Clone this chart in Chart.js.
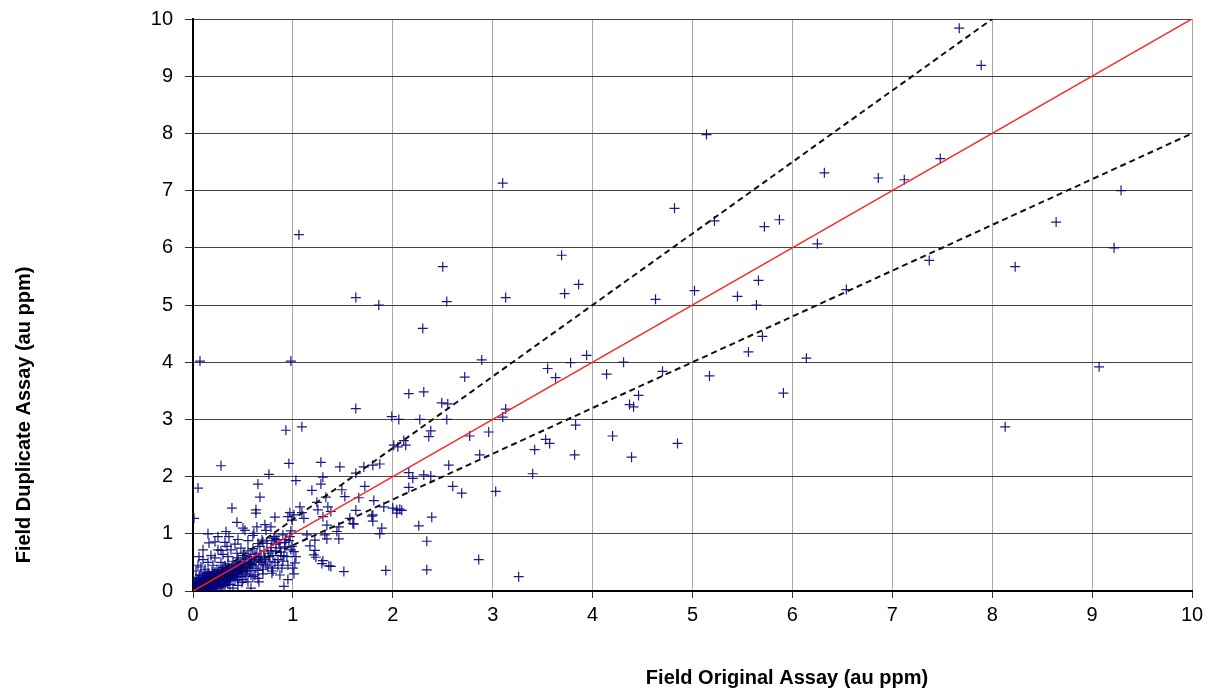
<!DOCTYPE html>
<html>
<head>
<meta charset="utf-8">
<title>Field Duplicates</title>
<script src="https://cdn.jsdelivr.net/npm/chart.js@4/dist/chart.umd.min.js"></script>
<style>
    body { margin: 0; background: #fff; }
    #wrap { width: 1210px; height: 692px; }
</style>
</head>
<body>
<div id="wrap"><canvas id="dupChart" width="1210" height="692"></canvas></div>
<script>
// original vs duplicate assay pairs, au ppm
var highPairs = [
    [7.67, 9.84], [7.89, 9.19], [5.14, 7.98], [7.48, 7.56], [6.32, 7.31], [6.86, 7.22], [7.12, 7.19],
    [3.10, 7.13], [9.29, 7.00], [4.82, 6.69], [5.22, 6.47], [8.64, 6.45], [5.87, 6.49], [5.72, 6.37],
    [1.06, 6.23], [6.25, 6.07], [9.22, 6.00], [3.69, 5.87], [7.37, 5.78], [2.50, 5.67], [8.23, 5.67],
    [5.66, 5.43], [3.86, 5.36], [5.02, 5.25], [6.54, 5.27], [3.72, 5.20], [1.63, 5.13], [3.13, 5.13],
    [5.45, 5.15], [4.63, 5.10], [2.54, 5.06], [5.64, 5.00], [1.86, 5.00], [2.30, 4.59], [5.70, 4.45],
    [5.56, 4.18], [3.94, 4.12], [6.14, 4.07], [0.07, 4.02], [0.98, 4.02], [2.89, 4.04], [4.31, 4.00],
    [3.78, 3.99], [9.07, 3.92], [3.55, 3.89], [4.70, 3.84], [4.14, 3.79], [5.17, 3.76], [2.72, 3.74],
    [3.63, 3.73], [2.31, 3.48], [2.16, 3.45], [5.91, 3.46], [4.46, 3.42], [4.37, 3.26], [4.41, 3.22],
    [2.49, 3.29], [2.55, 3.27], [1.63, 3.19], [3.13, 3.18], [3.10, 3.04], [1.99, 3.05], [2.06, 3.00],
    [2.27, 3.00], [2.54, 3.00], [8.13, 2.87], [3.83, 2.90], [1.09, 2.87], [0.93, 2.81], [2.96, 2.78],
    [2.38, 2.80], [2.36, 2.70], [2.77, 2.71], [4.20, 2.71], [3.53, 2.65], [3.57, 2.58], [4.85, 2.58],
    [2.11, 2.63], [2.01, 2.55], [2.05, 2.52], [2.13, 2.55], [3.42, 2.47], [3.82, 2.38], [2.87, 2.38],
    [4.39, 2.34]
];

var midPairs = [
    [0.28, 2.19], [0.96, 2.23], [1.28, 2.25], [1.47, 2.17], [1.71, 2.17], [1.80, 2.20], [1.87, 2.22],
    [2.56, 2.20], [1.63, 2.06], [2.16, 2.07], [2.20, 1.97], [2.31, 2.03], [2.38, 2.01], [3.40, 2.05],
    [0.76, 2.04], [1.03, 1.93], [1.30, 1.99], [1.28, 1.87], [0.65, 1.87], [0.05, 1.80], [1.72, 1.83],
    [2.16, 1.81], [2.60, 1.83], [2.69, 1.71], [3.03, 1.74], [1.19, 1.76], [1.49, 1.77], [1.52, 1.65],
    [1.33, 1.64], [1.66, 1.63], [0.67, 1.64], [1.81, 1.58], [1.24, 1.55], [1.07, 1.47], [1.35, 1.47],
    [1.91, 1.47], [2.00, 1.45], [2.04, 1.42], [2.07, 1.43], [2.09, 1.41], [0.39, 1.45], [0.63, 1.42],
    [1.63, 1.41], [1.25, 1.42], [1.38, 1.39], [0.97, 1.37], [1.09, 1.37], [0.63, 1.36], [2.04, 1.36],
    [1.80, 1.33], [1.30, 1.30], [0.82, 1.29], [2.39, 1.29], [1.79, 1.31], [0.01, 1.27], [1.11, 1.27],
    [1.57, 1.27], [0.99, 1.24], [1.80, 1.22], [1.61, 1.17], [1.60, 1.18], [1.34, 1.15], [1.46, 1.12],
    [2.26, 1.14], [1.89, 1.10], [1.44, 1.04], [1.87, 1.00], [1.14, 0.98], [1.32, 0.98], [1.22, 0.89],
    [1.34, 0.91], [1.46, 0.91], [2.34, 0.87], [0.99, 0.78], [1.17, 0.79], [1.01, 0.69], [1.22, 0.71],
    [1.03, 0.60], [1.21, 0.63], [1.23, 0.59], [1.30, 0.53], [1.02, 0.49], [1.29, 0.48], [1.36, 0.44],
    [1.38, 0.43], [2.86, 0.55], [1.00, 0.40], [0.79, 0.40], [1.51, 0.34], [1.93, 0.36], [2.34, 0.37],
    [1.01, 0.30], [0.87, 0.28], [3.26, 0.25], [0.66, 0.16], [0.58, 0.05], [0.40, 0.05]
];

var lowPairs = [
    [0.95, 1.30], [1.01, 1.33], [0.72, 1.16], [0.78, 1.12], [0.73, 1.06], [0.33, 1.04], [0.52, 1.06],
    [0.61, 1.01], [0.16, 0.84], [0.34, 0.78], [0.28, 0.71], [0.44, 0.66], [0.51, 0.66], [0.65, 0.83],
    [0.69, 0.89], [0.82, 0.95], [0.83, 0.82], [0.91, 0.61], [0.98, 0.72], [0.89, 0.40], [0.79, 0.31],
    [0.95, 0.20], [0.91, 0.08],
    [0.02, 0.05], [0.03, 0.12], [0.04, 0.02], [0.05, 0.20], [0.06, 0.08], [0.07, 0.15], [0.08, 0.03],
    [0.09, 0.27], [0.10, 0.10], [0.11, 0.18], [0.12, 0.06], [0.13, 0.22], [0.14, 0.13], [0.15, 0.32],
    [0.16, 0.09], [0.17, 0.19], [0.18, 0.26], [0.19, 0.14], [0.20, 0.05], [0.21, 0.30], [0.22, 0.21],
    [0.23, 0.12], [0.24, 0.37], [0.25, 0.26], [0.26, 0.18], [0.27, 0.08], [0.28, 0.33], [0.29, 0.23],
    [0.30, 0.41], [0.31, 0.15], [0.32, 0.29], [0.33, 0.36], [0.34, 0.22], [0.35, 0.47], [0.36, 0.31],
    [0.37, 0.11], [0.38, 0.39], [0.39, 0.27], [0.40, 0.52], [0.41, 0.35], [0.42, 0.19], [0.43, 0.44],
    [0.44, 0.30], [0.45, 0.58], [0.46, 0.40], [0.47, 0.25], [0.48, 0.50], [0.49, 0.36], [0.50, 0.62],
    [0.51, 0.45], [0.52, 0.30], [0.53, 0.55], [0.54, 0.41], [0.55, 0.70], [0.56, 0.49], [0.57, 0.35],
    [0.58, 0.60], [0.59, 0.47], [0.60, 0.74], [0.62, 0.55], [0.63, 0.40], [0.64, 0.66], [0.66, 0.52],
    [0.67, 0.78], [0.68, 0.61], [0.70, 0.47], [0.71, 0.70], [0.72, 0.58], [0.74, 0.83], [0.75, 0.66],
    [0.77, 0.52], [0.78, 0.76], [0.80, 0.62], [0.81, 0.92], [0.83, 0.70], [0.85, 0.55], [0.86, 0.84],
    [0.88, 0.68], [0.90, 0.98], [0.92, 0.77], [0.94, 0.60], [0.96, 0.88], [0.98, 1.05],
    [0.01, 0.01], [0.02, 0.09], [0.03, 0.04], [0.04, 0.16], [0.05, 0.06], [0.06, 0.24], [0.07, 0.02],
    [0.08, 0.11], [0.09, 0.07], [0.10, 0.19], [0.11, 0.03], [0.12, 0.14], [0.13, 0.28], [0.14, 0.04],
    [0.15, 0.17], [0.16, 0.23], [0.17, 0.11], [0.18, 0.07], [0.19, 0.34], [0.20, 0.16], [0.21, 0.24],
    [0.22, 0.10], [0.23, 0.29], [0.24, 0.16], [0.25, 0.05], [0.26, 0.38], [0.27, 0.20], [0.28, 0.27],
    [0.29, 0.12], [0.30, 0.33], [0.31, 0.24], [0.32, 0.44], [0.33, 0.18], [0.34, 0.30], [0.35, 0.25],
    [0.36, 0.40], [0.37, 0.20], [0.38, 0.31], [0.40, 0.23], [0.41, 0.45], [0.42, 0.29], [0.44, 0.37],
    [0.45, 0.20], [0.46, 0.48], [0.48, 0.33], [0.49, 0.15], [0.50, 0.41], [0.52, 0.50], [0.53, 0.26],
    [0.55, 0.39], [0.57, 0.56], [0.58, 0.28], [0.60, 0.44], [0.62, 0.64], [0.65, 0.36], [0.68, 0.50],
    [0.70, 0.86], [0.73, 0.45], [0.76, 0.60], [0.79, 0.88], [0.82, 0.50], [0.87, 0.75], [0.93, 0.90],
    [0.30, 0.07], [0.35, 0.12], [0.45, 0.10], [0.50, 0.20], [0.55, 0.16], [0.60, 0.25], [0.65, 0.22],
    [0.70, 0.30], [0.20, 0.02], [0.15, 0.03],
    [0.03, 0.35], [0.05, 0.45], [0.08, 0.42], [0.10, 0.55], [0.12, 0.38], [0.15, 0.50], [0.18, 0.62],
    [0.20, 0.45], [0.22, 0.58], [0.25, 0.72], [0.28, 0.50], [0.30, 0.64], [0.32, 0.85], [0.35, 0.60],
    [0.38, 0.72], [0.42, 0.82], [0.45, 0.90], [0.48, 0.75], [0.55, 0.88], [0.60, 0.97], [0.10, 0.72],
    [0.06, 0.60], [0.22, 0.86], [0.36, 0.95], [0.50, 1.10], [0.64, 1.12], [0.44, 1.20], [0.15, 1.00],
    [0.25, 0.95],
    [0.62, 0.28], [0.70, 0.38], [0.75, 0.42], [0.80, 0.35], [0.85, 0.45], [0.90, 0.52], [0.95, 0.45],
    [0.72, 0.55], [0.66, 0.58], [0.88, 0.62], [0.78, 0.70], [0.92, 0.85], [0.97, 0.95], [0.84, 0.90]
];

// near-detection-limit samples packed around the origin
var traceFloor = [
    [0.01, 0.03], [0.02, 0.01], [0.02, 0.14], [0.03, 0.07], [0.03, 0.22], [0.04, 0.05], [0.04, 0.10],
    [0.05, 0.03], [0.05, 0.13], [0.06, 0.04], [0.06, 0.17], [0.07, 0.09], [0.07, 0.28], [0.08, 0.06],
    [0.08, 0.19], [0.09, 0.12], [0.09, 0.02], [0.10, 0.07], [0.10, 0.24], [0.11, 0.11], [0.11, 0.31],
    [0.12, 0.09], [0.12, 0.21], [0.13, 0.05], [0.13, 0.16], [0.14, 0.19], [0.14, 0.26], [0.15, 0.08],
    [0.15, 0.12], [0.16, 0.15], [0.16, 0.30], [0.17, 0.05], [0.17, 0.24], [0.18, 0.13], [0.18, 0.19],
    [0.19, 0.09], [0.19, 0.22], [0.20, 0.11], [0.20, 0.28], [0.21, 0.17], [0.21, 0.06], [0.22, 0.14],
    [0.22, 0.33], [0.23, 0.20], [0.23, 0.08], [0.24, 0.24], [0.24, 0.11], [0.25, 0.18], [0.25, 0.31],
    [0.26, 0.13], [0.26, 0.25], [0.27, 0.29], [0.27, 0.15], [0.28, 0.10], [0.28, 0.22], [0.29, 0.35],
    [0.29, 0.18], [0.30, 0.26], [0.30, 0.14], [0.31, 0.32], [0.31, 0.20], [0.32, 0.10], [0.32, 0.24],
    [0.33, 0.27], [0.33, 0.40], [0.34, 0.16], [0.34, 0.35], [0.35, 0.31], [0.36, 0.22], [0.36, 0.36],
    [0.37, 0.28], [0.38, 0.25], [0.39, 0.34], [0.39, 0.42], [0.40, 0.30], [0.41, 0.26], [0.42, 0.38],
    [0.43, 0.33], [0.44, 0.24], [0.45, 0.43], [0.46, 0.34], [0.47, 0.46], [0.48, 0.40], [0.50, 0.35],
    [0.51, 0.52], [0.53, 0.44], [0.54, 0.36], [0.56, 0.58], [0.58, 0.48], [0.61, 0.52], [0.63, 0.60]
];

// reference lines: 1:1, +25% and -20%
var oneToOne = [[0, 0], [10, 10]];
var upperLimit = [[0, 0], [8, 10]];
var lowerLimit = [[0, 0], [10, 8]];

var axisTicks = [0, 1, 2, 3, 4, 5, 6, 7, 8, 9, 10];

function toXY(list) {
    return list.map(function (p) { return { x: p[0], y: p[1] }; });
}

var FONT = '"Liberation Sans", Arial, sans-serif';

// axis titles sit off-centre, so they are drawn by hand
var axisTitles = {
    id: 'axisTitles',
    afterDraw: function (chart) {
        var ctx = chart.ctx;
        ctx.save();
        ctx.fillStyle = '#000';
        ctx.font = 'bold 20px ' + FONT;
        ctx.textAlign = 'center';
        ctx.textBaseline = 'middle';
        ctx.fillText('Field Original Assay (au ppm)', 787, 678);
        ctx.translate(24, 415);
        ctx.rotate(-Math.PI / 2);
        ctx.fillText('Field Duplicate Assay (au ppm)', 0, 0);
        ctx.restore();
    }
};

var ctx = document.getElementById('dupChart');
var chart = new Chart(ctx, {
    type: 'scatter',
    data: {
        datasets: [
            {
                label: 'Duplicates',
                data: toXY(highPairs.concat(midPairs, lowPairs, traceFloor)),
                pointStyle: 'cross',
                pointRadius: 5,
                borderWidth: 1.2,
                borderColor: 'rgba(0, 0, 128, 0.9)',
                backgroundColor: 'rgba(0, 0, 128, 0.9)',
                order: 2
            },
            {
                label: '1:1',
                data: toXY(oneToOne),
                showLine: true,
                pointRadius: 0,
                borderColor: '#ff2020',
                borderWidth: 1.5,
                order: 1
            },
            {
                label: '+25%',
                data: toXY(upperLimit),
                showLine: true,
                pointRadius: 0,
                borderColor: '#111',
                borderWidth: 2,
                borderDash: [6, 4],
                order: 1
            },
            {
                label: '-20%',
                data: toXY(lowerLimit),
                showLine: true,
                pointRadius: 0,
                borderColor: '#111',
                borderWidth: 2,
                borderDash: [6, 4],
                order: 1
            }
        ]
    },
    options: {
        responsive: false,
        animation: false,
        layout: { padding: { top: 19, right: 18, bottom: 0, left: 0 } },
        plugins: {
            legend: { display: false },
            tooltip: { enabled: false }
        },
        scales: {
            x: {
                min: 0,
                max: 10,
                afterBuildTicks: function (scale) {
                    scale.ticks = axisTicks.map(function (v) { return { value: v }; });
                },
                afterFit: function (scale) { scale.height = 101; },
                ticks: { color: '#000', font: { size: 20, family: FONT }, padding: 5, maxRotation: 0 },
                grid: { color: '#a8a8a8', tickColor: '#333', tickLength: 7, lineWidth: 1 },
                border: { color: '#000', width: 2 }
            },
            y: {
                min: 0,
                max: 10,
                afterBuildTicks: function (scale) {
                    scale.ticks = axisTicks.map(function (v) { return { value: v }; });
                },
                afterFit: function (scale) {
                    scale.width = 193;
                    // label padding must not push the plot area down
                    scale.paddingTop = 12;
                    scale.paddingBottom = 12;
                },
                ticks: { color: '#000', font: { size: 20, family: FONT }, padding: 12 },
                grid: { color: '#444', tickColor: '#333', tickLength: 8, lineWidth: 1 },
                border: { color: '#000', width: 2 }
            }
        }
    },
    plugins: [axisTitles]
});
</script>
</body>
</html>
